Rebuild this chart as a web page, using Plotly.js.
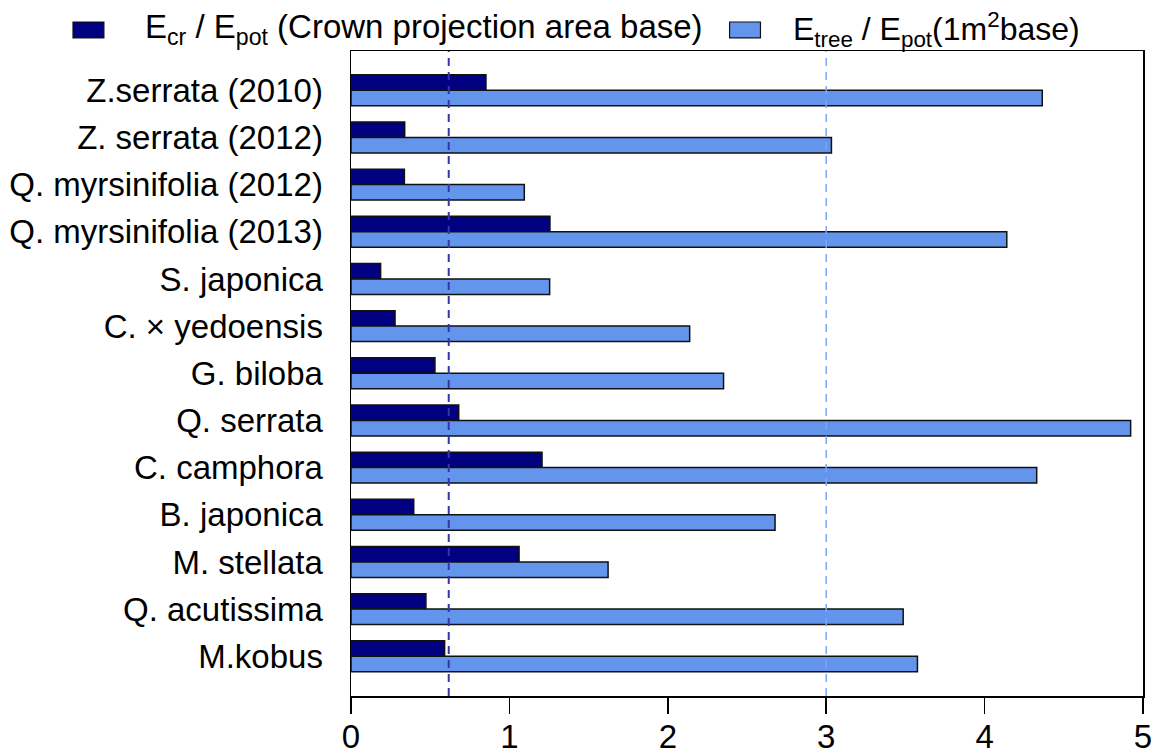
<!DOCTYPE html>
<html>
<head>
<meta charset="utf-8">
<script src="https://cdn.plot.ly/plotly-3.0.1.min.js"></script>
<style>
html,body{margin:0;padding:0;background:#fff;}
#chart{width:1157px;height:755px;}
</style>
</head>
<body>
<div id="chart"></div>
<script>
// Categories, top to bottom
const categories = [
  "Z.serrata (2010)",
  "Z. serrata (2012)",
  "Q. myrsinifolia (2012)",
  "Q. myrsinifolia (2013)",
  "S. japonica",
  "C. × yedoensis",
  "G. biloba",
  "Q. serrata",
  "C. camphora",
  "B. japonica",
  "M. stellata",
  "Q. acutissima",
  "M.kobus"
];
// E_cr / E_pot (crown projection area base)
const ecrRatio = [0.852, 0.339, 0.337, 1.256, 0.187, 0.278, 0.530, 0.680, 1.206, 0.396, 1.061, 0.473, 0.591];
// E_tree / E_pot (1 m2 base)
const etreeRatio = [4.364, 3.033, 1.094, 4.140, 1.254, 2.138, 2.352, 4.922, 4.329, 2.677, 1.623, 3.486, 3.576];
// Reference (dashed) lines
const ecrRef = 0.617;
const etreeRef = 3.0;
const xTicks = [0, 1, 2, 3, 4, 5];
// Series names (legend)
const seriesNames = [
  "E<sub>cr</sub> / E<sub>pot</sub> (Crown projection area base)",
  "E<sub>tree</sub> / E<sub>pot</sub>(1m<sup>2</sup>base)"
];
const seriesColors = ["#000080", "#6495ED"];

const FONT = "Liberation Sans, Arial, sans-serif";

const traces = [
  {
    type: "bar", orientation: "h",
    name: seriesNames[0],
    y: categories, x: ecrRatio,
    marker: {color: seriesColors[0], line: {color: "#111111", width: 1.5}}
  },
  {
    type: "bar", orientation: "h",
    name: seriesNames[1],
    y: categories, x: etreeRatio,
    marker: {color: seriesColors[1], line: {color: "#111111", width: 1.5}}
  }
];

// Custom legend placed above the plot (paper coordinates)
const legendItems = [
  {sx0: -0.351, sx1: -0.312, tx: -0.2626, size: 33},
  {sx0: 0.478, sx1: 0.517, tx: 0.5555, size: 32}
];
const legShapes = legendItems.map((it, i) => ({
  type: "rect", xref: "paper", yref: "paper",
  x0: it.sx0, x1: it.sx1, y0: 1.0202, y1: 1.045,
  fillcolor: seriesColors[i], line: {color: "#111", width: 1.2}
}));
const legAnnots = legendItems.map((it, i) => ({
  xref: "paper", yref: "paper", x: it.tx, y: 1.034,
  xanchor: "left", yanchor: "middle", showarrow: false,
  text: seriesNames[i],
  font: {family: FONT, size: it.size, color: "#000"}
}));

const layout = {
  width: 1157, height: 755,
  margin: {l: 351, r: 14, t: 51, b: 59, pad: 0, autoexpand: false},
  paper_bgcolor: "#fff", plot_bgcolor: "#fff",
  font: {family: FONT, color: "#000", size: 33},
  barmode: "group",
  bargap: 0.345,
  bargroupgap: 0,
  showlegend: false,
  xaxis: {
    range: [0, 5],
    tickvals: xTicks,
    ticktext: xTicks.map(String),
    ticks: "outside", ticklen: 16, tickwidth: 1.5, tickcolor: "#000",
    ticklabelstandoff: -5,
    showline: true, linecolor: "#000", linewidth: 1.5, mirror: true,
    showgrid: false, zeroline: false,
    tickfont: {family: FONT, size: 33, color: "#000"},
    fixedrange: true
  },
  yaxis: {
    type: "category",
    categoryorder: "array", categoryarray: categories,
    range: [12.842, -0.833],
    ticks: "", ticklabelstandoff: 20,
    showline: true, linecolor: "#000", linewidth: 1.5, mirror: true,
    showgrid: false, zeroline: false,
    tickfont: {family: FONT, size: 33, color: "#000"},
    fixedrange: true
  },
  shapes: [
    {type: "line", xref: "x", yref: "paper", x0: ecrRef, x1: ecrRef, y0: 0, y1: 1,
     line: {color: "#3535AA", width: 2, dash: "8px,6px"}, layer: "above"},
    {type: "line", xref: "x", yref: "paper", x0: etreeRef, x1: etreeRef, y0: 0, y1: 1,
     line: {color: "#7AA6F2", width: 1.5, dash: "8px,6px"}, layer: "above"}
  ].concat(legShapes),
  annotations: legAnnots
};

Plotly.newPlot("chart", traces, layout, {displayModeBar: false, staticPlot: true});
</script>
</body>
</html>
